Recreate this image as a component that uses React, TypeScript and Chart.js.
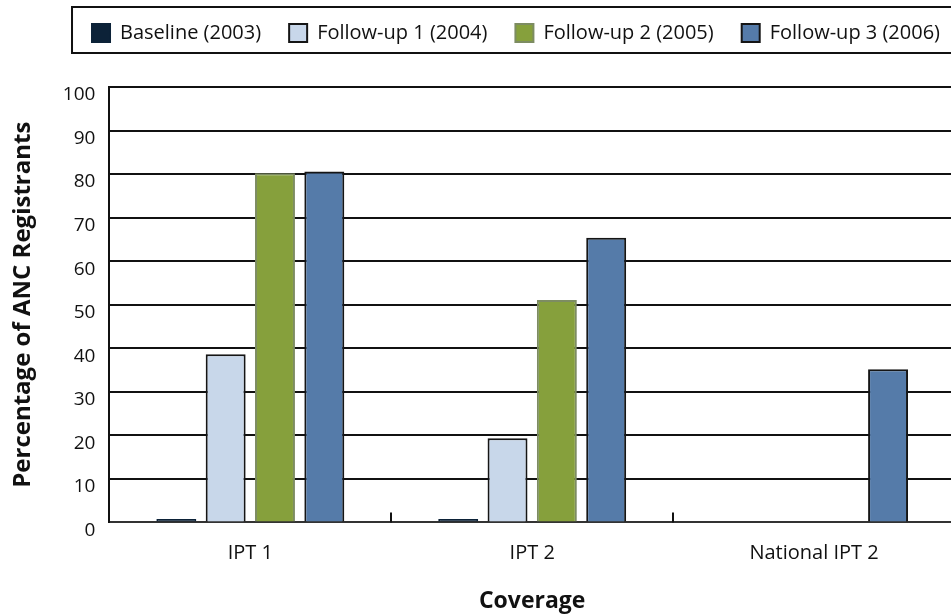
import React, { useEffect, useRef } from "react";
import { Chart, registerables } from "chart.js";

Chart.register(...registerables);

const categories = ["IPT 1", "IPT 2", "National IPT 2"];
const seriesLabels = [
  "Baseline (2003)",
  "Follow-up 1 (2004)",
  "Follow-up 2 (2005)",
  "Follow-up 3 (2006)",
];
const baseline = [0.8, 0.8, null];
const followUp1 = [38.6, 19.3, null];
const followUp2 = [80.2, 51.1, null];
const followUp3 = [80.6, 65.4, 35.2];

const yTicks = [0, 10, 20, 30, 40, 50, 60, 70, 80, 90, 100];

const fillColors = ["#0c2238", "#c8d7ea", "#86a03c", "#557ba9"];
const borderColors = ["#0c2238", "#151515", "#7d8c62", "#151515"];

const FONT = "'Open Sans', Lato, sans-serif";
const LEGEND_BLOCK = 92;

const extrasPlugin = {
  id: "extras",
  beforeLayout(chart: any) {
    const lg = chart.legend;
    if (lg && !lg.__patched) {
      const orig = lg.fit.bind(lg);
      lg.fit = function () {
        orig();
        this.height = Math.max(this.height, LEGEND_BLOCK);
      };
      lg.__patched = true;
    }
  },
  afterDraw(chart: any) {
    const ctx = chart.ctx;
    const x = chart.scales.x;
    const area = chart.chartArea;
    ctx.save();
    ctx.strokeStyle = "#111";
    ctx.lineWidth = 2;
    for (let i = 1; i < categories.length; i++) {
      const px = Math.round((x.getPixelForTick(i - 1) + x.getPixelForTick(i)) / 2);
      ctx.beginPath();
      ctx.moveTo(px, area.bottom);
      ctx.lineTo(px, area.bottom - 10);
      ctx.stroke();
    }
    const hits = chart.legend && chart.legend.legendHitBoxes;
    if (hits && hits.length) {
      const first = hits[0];
      const last = hits[hits.length - 1];
      const left = first.left - 20;
      const right = last.left + last.width + 20;
      const top = first.top - 16;
      const bottom = first.top + first.height + 10;
      ctx.strokeStyle = "#111";
      ctx.lineWidth = 2;
      ctx.strokeRect(left, top, right - left, bottom - top);
    }
    ctx.restore();
  },
};

export default function App() {
  const ref = useRef<HTMLCanvasElement | null>(null);

  useEffect(() => {
    if (!ref.current) return;
    const series = [baseline, followUp1, followUp2, followUp3];
    const chart = new Chart(ref.current, {
      type: "bar",
      data: {
        labels: categories,
        datasets: series.map((d, i) => ({
          label: seriesLabels[i],
          data: d,
          backgroundColor: fillColors[i],
          borderColor: borderColors[i],
          borderWidth: 2,
          barPercentage: 0.81,
          categoryPercentage: 0.7,
        })),
      },
      options: {
        responsive: false,
        animation: false,
        devicePixelRatio: 1,
        layout: { padding: { top: -5, left: 0, right: 0, bottom: 0 } },
        plugins: {
          tooltip: { enabled: false },
          legend: {
            display: true,
            position: "top",
            labels: {
              boxWidth: 18,
              boxHeight: 18,
              padding: 28,
              color: "#111",
              font: { family: FONT, size: 20 },
            },
          },
        },
        scales: {
          x: {
            grid: { display: false, drawTicks: false },
            border: { display: true, color: "#333", width: 2 },
            ticks: {
              color: "#111",
              padding: 19,
              font: { family: FONT, size: 20 },
            },
            title: {
              display: true,
              text: "Coverage",
              color: "#111",
              font: { family: FONT, size: 23, weight: "bold" },
              padding: { top: 3, bottom: 0 },
            },
          },
          y: {
            min: 0,
            max: 100,
            afterBuildTicks: (s: any) => {
              s.ticks = yTicks.map((v) => ({ value: v }));
            },
            grid: { color: "#111", lineWidth: 2, drawTicks: false },
            border: { display: true, color: "#111", width: 2 },
            ticks: {
              color: "#111",
              padding: 14,
              labelOffset: 8,
              font: { family: FONT, size: 19 },
            },
            title: {
              display: true,
              text: "Percentage of ANC Registrants",
              color: "#111",
              font: { family: FONT, size: 24, weight: "bold" },
              padding: { top: 9, bottom: 11 },
            },
          },
          yr: {
            type: "linear",
            position: "right",
            display: true,
            grid: { display: false },
            border: { display: false },
            ticks: { display: false },
            afterFit: (s: any) => {
              s.width = 77;
            },
          },
        },
      },
      plugins: [extrasPlugin],
    } as any);
    return () => chart.destroy();
  }, []);

  return (
    <div
      style={{
        position: "absolute",
        left: 0,
        top: 0,
        width: 951,
        height: 615,
        overflow: "hidden",
        background: "#fff",
      }}
    >
      <canvas ref={ref} width={1032} height={615} style={{ display: "block" }} />
    </div>
  );
}
